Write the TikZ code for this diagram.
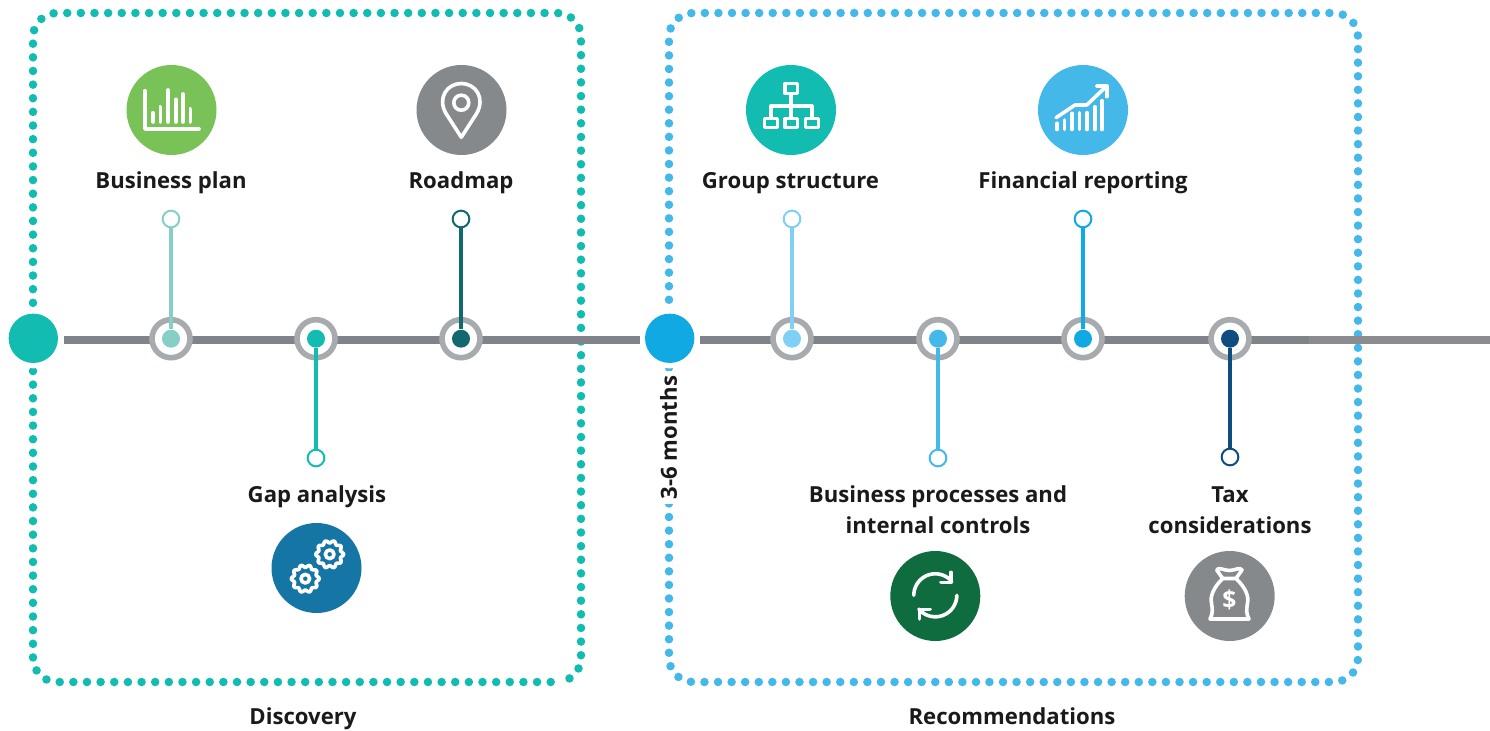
\documentclass[tikz,border=0pt]{standalone}
\usepackage{fontspec}
\setmainfont{Open Sans}
\definecolor{teal}{HTML}{12BCB0}
\definecolor{sky}{HTML}{45B8EA}
\definecolor{track}{HTML}{80848A}
\definecolor{trackb}{HTML}{8A8C8F}
\definecolor{ringc}{HTML}{A7ABAD}
\definecolor{greyi}{HTML}{85898C}
\definecolor{lteal}{HTML}{86CFC6}
\definecolor{dteal}{HTML}{11696F}
\definecolor{lsky}{HTML}{80CFF5}
\definecolor{msky}{HTML}{45B8EA}
\definecolor{dsky}{HTML}{11A9E3}
\definecolor{navy}{HTML}{0F4C7F}
\definecolor{leaf}{HTML}{78C257}
\definecolor{ocean}{HTML}{1575A5}
\definecolor{forest}{HTML}{0F6C3E}
\definecolor{ink}{HTML}{1A1A1A}
\tikzset{
  dotbox/.style={line width=6.4pt,line cap=round,rounded corners=18pt},
  trackline/.style={line width=6.3pt,color=track},
  halo/.style={circle,fill=white,inner sep=0pt,minimum size=45pt},
  bigdot/.style={circle,inner sep=0pt,minimum size=37pt},
  ringnode/.style={circle,draw=ringc,fill=white,line width=4.2pt,inner sep=0pt,minimum size=28.5pt},
  core/.style={circle,inner sep=0pt,minimum size=13.5pt},
  tipnode/.style={circle,fill=white,line width=1.5pt,inner sep=0pt,minimum size=12.5pt},
  stem/.style={line width=2.5pt},
  iconbg/.style={circle,inner sep=0pt,minimum size=67.5pt},
  glyph/.style={draw=white,line width=2.7pt,line cap=round,line join=round},
  label/.style={font=\fontsize{16.6}{23.2}\selectfont\bfseries,text=ink,align=center,inner sep=0pt},
  lab/.style={label,anchor=base},
}
\begin{document}
\begin{tikzpicture}[x=0.75pt,y=-0.75pt]
\useasboundingbox (0,0) rectangle (1490,731);
% dotted frames
\draw[dotbox,draw=teal,dash pattern=on 0pt off 10.229pt] (550.7,682) -- (33,682) -- (33,13) -- (581,13) -- (581,682) -- (557,682);
\draw[dotbox,draw=sky,dash pattern=on 0pt off 10.183pt] (1000,682) -- (669,682) -- (669,13) -- (1358,13) -- (1358,682) -- cycle;
% white halos and month label
\node[halo] (h1) at (33.3,338.3) {};
\node[halo] (h2) at (669.7,338.3) {};
\node[label,rotate=90,fill=white,inner ysep=4pt,inner xsep=4pt] (months) at (668.5,437.5) {3-6 months};
% track
\coordinate (s1) at (64,340);
\coordinate (e1) at (639.5,340);
\coordinate (s2) at (700.3,340);
\coordinate (e2) at (1312,340);
\coordinate (s3) at (1309,340);
\coordinate (e3) at (1490,340);
\draw[trackline] (s1) -- (e1);
\draw[trackline] (s2) -- (e2);
\draw[trackline,color=trackb] (s3) -- (e3);
\node[bigdot,fill=teal] (start) at (33.3,338.3) {};
\node[bigdot,fill=dsky] (mid) at (669.7,338.3) {};
% milestones
\foreach \n/\xx/\yy/\c in {a/171/219/lteal,b/316/458/teal,c/461/219/dteal,d/792/219/lsky,e/938/458/msky,f/1083/219/dsky,g/1230/457/navy}{
  \node[ringnode] (r\n) at (\xx,338.7) {};
  \node[core,fill=\c] (k\n) at (\xx,338.7) {};
  \node[tipnode,draw=\c] (t\n) at (\xx,\yy) {};
  \draw[stem,draw=\c] (t\n) -- (k\n);
}
% labels
\node[lab] (l1) at (171,189) {Business plan};
\node[lab] (l2) at (461,189) {Roadmap};
\node[lab] (l3) at (790.5,189) {Group structure};
\node[lab] (l4) at (1083,189) {Financial reporting};
\node[lab] (l5) at (317,502) {Gap analysis};
\node[lab] (l6a) at (938,502) {Business processes and};
\node[lab] (l6b) at (938,533) {internal controls};
\node[lab] (l7a) at (1230,502) {Tax};
\node[lab] (l7b) at (1230,533) {considerations};
\node[lab] (l8) at (303,724) {Discovery};
\node[lab] (l9) at (1012,724) {Recommendations};
% icon discs
\node[iconbg,fill=leaf] (i1) at (171.5,110) {};
\node[iconbg,fill=greyi] (i2) at (461.5,110) {};
\node[iconbg,fill=teal] (i3) at (791,110) {};
\node[iconbg,fill=sky] (i4) at (1083,110) {};
\node[iconbg,fill=ocean] (i5) at (316.5,568) {};
\node[iconbg,fill=forest] (i6) at (935.3,596) {};
\node[iconbg,fill=greyi] (i7) at (1229.7,596) {};
% bar chart
\draw[glyph] (145,90.7) -- (145,129) -- (199,129);
\foreach \xx/\yy in {152.7/112.7,160.3/106.7,168/90,175.7/99.3,183/94,190.3/108.7}
  \draw[glyph] (\xx,122) -- (\xx,\yy);
% pin
\draw[glyph] (461.3,137.3) -- (446,113.5) .. controls (437,98) and (447,83.5) .. (461.3,83.5) .. controls (475.6,83.5) and (485.6,98) .. (476.6,113.5) -- cycle;
\draw[glyph] (461.3,102.7) circle[radius=7.5];
% org chart
\draw[glyph] (785,83.5) rectangle (797.5,93.5);
\draw[glyph] (791,94) -- (791,118);
\draw[glyph] (770.7,118) -- (770.7,106) -- (811.7,106) -- (811.7,118);
\draw[glyph] (764.5,118.5) rectangle (777.5,127.5);
\draw[glyph] (785,118.5) rectangle (797.5,127.5);
\draw[glyph] (805.5,118.5) rectangle (818.5,127.5);
% growth chart
\foreach \xx/\yy in {1057/123.3,1064.3/120,1072/113.3,1079.3/112.7,1087/112.7,1094.7/106.7,1102/100.7}
  \draw[glyph] (\xx,129.5) -- (\xx,\yy);
\draw[glyph] (1056,117.7) -- (1075,105) -- (1086.7,105) -- (1106,86.7);
\draw[glyph] (1097,86) -- (1106.7,86) -- (1106.7,96.7);
% gears
\foreach \cx/\cy in {329.7/554.3,305.3/578.7}{
  \draw[glyph,smooth,samples=80,domain=0:355.5] plot ({\cx+(12.6+1.3*cos(10*\x))*cos(\x)},{\cy+(12.6+1.3*cos(10*\x))*sin(\x)}) -- cycle;
  \draw[glyph] (\cx,\cy) circle[radius=4.3];
}
% sync
\draw[glyph,smooth,samples=30,domain=180:320] plot ({935.3+21.5*cos(\x)},{595.3+21.5*sin(\x)});
\draw[glyph] (951,582.3) -- (951,572.3);
\draw[glyph] (941,582.3) -- (951,582.3);
\draw[glyph,smooth,samples=30,domain=0:140] plot ({935.3+21.5*cos(\x)},{595.3+21.5*sin(\x)});
\draw[glyph] (919.3,609.3) -- (919.3,619);
\draw[glyph] (919.3,609.3) -- (930,609.3);
% money bag
\draw[glyph] (1222.7,578.5) .. controls (1213,588) and (1210,597) .. (1211.5,603) .. controls (1212.5,610) and (1213,613) .. (1210,619) -- (1249,619) .. controls (1246,613) and (1246.5,610) .. (1247.5,603) .. controls (1249,597) and (1246,588) .. (1236,578.5) -- cycle;
\draw[glyph] (1222.7,578.5) -- (1216.7,570) .. controls (1218,566.5) and (1224,570.5) .. (1229.3,570.5) .. controls (1235,570.5) and (1240,566.5) .. (1242,570) -- (1236,578.5);
\node[font=\fontsize{18.5}{18.5}\selectfont\bfseries,text=white,inner sep=0pt] (dollar) at (1229.3,600) {\$};
\end{tikzpicture}
\end{document}
